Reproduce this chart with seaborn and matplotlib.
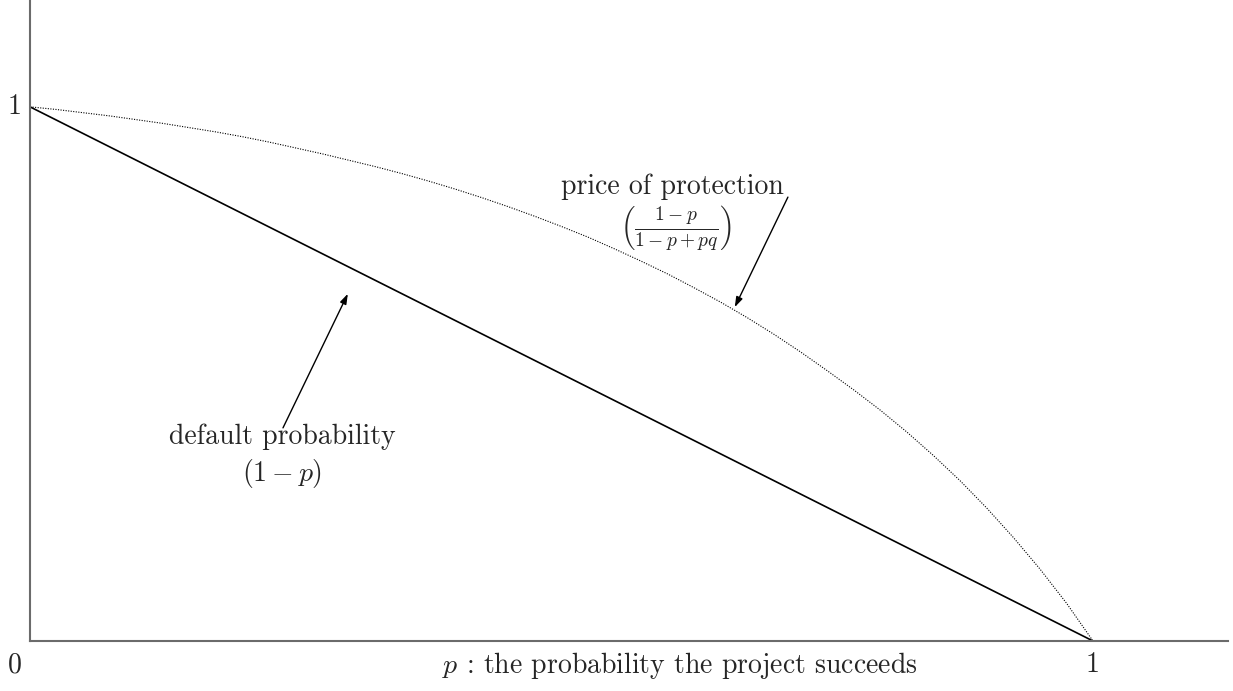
import numpy as np
import pandas as pd
import matplotlib
matplotlib.use("Agg")
import matplotlib.pyplot as plt
import seaborn as sns

# =====================================
# Data
# =====================================
p_grid = [0.000, 0.025, 0.050, 0.075, 0.100, 0.125, 0.150, 0.175, 0.200, 0.225,
          0.250, 0.275, 0.300, 0.325, 0.350, 0.375, 0.400, 0.425, 0.450, 0.475,
          0.500, 0.525, 0.550, 0.575, 0.600, 0.625, 0.650, 0.675, 0.700, 0.725,
          0.750, 0.775, 0.800, 0.825, 0.850, 0.875, 0.900, 0.925, 0.950, 0.975,
          1.000]
default_prob = [1.000, 0.975, 0.950, 0.925, 0.900, 0.875, 0.850, 0.825, 0.800, 0.775,
                0.750, 0.725, 0.700, 0.675, 0.650, 0.625, 0.600, 0.575, 0.550, 0.525,
                0.500, 0.475, 0.450, 0.425, 0.400, 0.375, 0.350, 0.325, 0.300, 0.275,
                0.250, 0.225, 0.200, 0.175, 0.150, 0.125, 0.100, 0.075, 0.050, 0.025,
                0.000]
protection_price = [1.000, 0.995, 0.989, 0.983, 0.976, 0.969, 0.961, 0.953, 0.944, 0.934,
                    0.923, 0.912, 0.900, 0.888, 0.875, 0.861, 0.846, 0.830, 0.813, 0.795,
                    0.776, 0.756, 0.734, 0.711, 0.687, 0.661, 0.634, 0.605, 0.574, 0.541,
                    0.506, 0.470, 0.432, 0.391, 0.347, 0.300, 0.249, 0.194, 0.135, 0.071,
                    0.000]

X_TICKS = ["0", "1"]
Y_TICKS = ["1"]
XLABEL = r"$p$ : the probability the project succeeds"

df = pd.DataFrame({"p": p_grid, "default": default_prob, "price": protection_price})

# =====================================
# Style
# =====================================
sns.set_style("white")
plt.rcParams["font.family"] = ["cmr10", "DejaVu Serif"]
plt.rcParams["mathtext.fontset"] = "cm"
plt.rcParams["axes.unicode_minus"] = False
FS = 20

fig = plt.figure(figsize=(12.33, 6.91), dpi=100)
ax = fig.add_axes([30 / 1233, 50 / 691, 1198 / 1233, 641 / 691])

sns.lineplot(data=df, x="p", y="default", ax=ax, color="black", linewidth=1.2)
sns.lineplot(data=df, x="p", y="price", ax=ax, color="black", linewidth=0.8,
             linestyle=(0, (1, 1.3)))

ax.set_xlim(0, 1.127)
ax.set_ylim(0, 1.2)
ax.set_xticks([])
ax.set_yticks([])
ax.set_xlabel("")
ax.set_ylabel("")
for side in ["top", "right"]:
    ax.spines[side].set_visible(False)
for side in ["left", "bottom"]:
    ax.spines[side].set_color("#6b6b6b")
    ax.spines[side].set_linewidth(1.5)

# axis labels drawn as plain text
ax.text(-0.014, -0.045, X_TICKS[0], fontsize=FS, ha="center", va="center", clip_on=False)
ax.text(1.0, -0.045, X_TICKS[1], fontsize=FS, ha="center", va="center", clip_on=False)
ax.text(-0.015, 1.0, Y_TICKS[0], fontsize=FS, ha="center", va="center", clip_on=False)
ax.text(0.611, -0.045, XLABEL, fontsize=FS, ha="center", va="center", clip_on=False)

# annotations
arrow = dict(arrowstyle="-|>,head_length=0.6,head_width=0.2", color="black", lw=1.0,
             shrinkA=0, shrinkB=0)
ax.annotate("", xy=(0.299, 0.650), xytext=(0.238, 0.399), arrowprops=arrow)
ax.text(0.237, 0.382, "default probability", fontsize=FS, ha="center", va="center")
ax.text(0.237, 0.313, r"$(1-p)$", fontsize=FS, ha="center", va="center")

ax.annotate("", xy=(0.663, 0.625), xytext=(0.713, 0.831), arrowprops=arrow)
ax.text(0.604, 0.850, "price of protection", fontsize=FS, ha="center", va="center")
ax.text(0.608, 0.773, r"$\left(\frac{1-p}{1-p+pq}\right)$", fontsize=FS, ha="center", va="center")

fig.savefig("out.png", dpi=100)
